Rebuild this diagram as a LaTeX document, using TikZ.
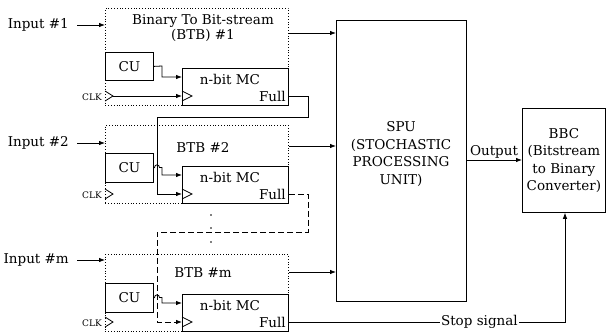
\documentclass[tikz,border=0pt]{standalone}
\usepackage{fontspec}
\setmainfont{DejaVu Serif}
\usetikzlibrary{arrows.meta}
\begin{document}
\begin{tikzpicture}[x=1pt,y=-1pt,
  font=\fontsize{13.5}{17.5}\selectfont,
  lw/.style={line width=0.8pt},
  box/.style={draw, lw, inner sep=0pt, anchor=north west},
  btb/.style={draw, dotted, line width=0.8pt, inner sep=0pt, anchor=north west},
  arr/.style={lw, -{Latex[length=6pt,width=4.5pt]}},
  clklbl/.style={font=\fontsize{9}{10}\selectfont, anchor=east, inner sep=0pt},
  txt/.style={inner sep=0pt, align=center}]
\useasboundingbox (0,0) rectangle (606,333);

% ---------- BTB blocks ----------
\node[btb, minimum width=183pt, minimum height=97pt] (b1) at (105,8) {};
\node[btb, minimum width=183pt, minimum height=78pt] (b2) at (105,125) {};
\node[btb, minimum width=183pt, minimum height=77pt] (bm) at (105,254) {};

\node[txt, font=\fontsize{13.5}{14.5}\selectfont] (t1) at (203,28) {Binary To Bit-stream\\(BTB) \#1};
\node[txt] (t2) at (203,147) {BTB \#2};
\node[txt] (tm) at (203,273) {BTB \#m};

\node[box, minimum width=48pt, minimum height=28pt] (cu1) at (105,52) {CU};
\node[box, minimum width=48pt, minimum height=29pt] (cu2) at (105,153) {CU};
\node[box, minimum width=48pt, minimum height=29pt] (cum) at (105,283) {CU};

\node[box, minimum width=106pt, minimum height=37pt] (mc1) at (182,68) {};
\node[box, minimum width=106pt, minimum height=37pt] (mc2) at (182,166) {};
\node[box, minimum width=106pt, minimum height=37pt] (mcm) at (182,294) {};

\foreach \m/\y in {mc1/68, mc2/166, mcm/294}{
  \node[txt] at (230,\y+11) {n-bit MC};
  \node[txt, anchor=east] at (286,\y+28) {Full};
  % clock triangle on MC
  \draw[lw] (182,\y+23) -- (192,\y+28) -- (182,\y+33);
  % clock triangle on BTB
  \draw[lw] (105,\y+23) -- (113,\y+28) -- (105,\y+33);
  \node[clklbl] at (102,\y+29) {CLK};
}

% ---------- Inputs ----------
\node[inner sep=0pt, anchor=east] (in1) at (69,25) {Input \#1};
\node[inner sep=0pt, anchor=east] (in2) at (69,143) {Input \#2};
\node[inner sep=0pt, anchor=east] (inm) at (69,260) {Input \#m};
\draw[arr] (in1.east) ++(8,0) -- (b1.west |- in1.east);
\draw[arr] (in2.east) ++(8,0) -- (b2.west |- in2.east);
\draw[arr] (inm.east) ++(8,0) -- (bm.west |- inm.east);

% ---------- SPU & BBC ----------
\node[box, minimum width=130pt, minimum height=281pt] (spu) at (336,20) {};
\node[txt] (spt) at (401,154) {SPU\\(STOCHASTIC\\PROCESSING\\UNIT)};
\node[box, minimum width=83pt, minimum height=104pt, align=center] (bbc) at (522,108) {BBC\\(Bitstream\\to Binary\\Converter)};

\draw[arr] (b1.east |- 0,33) -- (spu.west |- 0,33);
\draw[arr] (b2.east |- 0,146) -- (spu.west |- 0,146);
\draw[arr] (bm.east |- 0,272) -- (spu.west |- 0,272);

\coordinate (o1) at (466,160);
\draw[arr] (o1) -- (bbc.west |- o1) node[midway, above=1.5pt, inner sep=0pt] {Output};

% ---------- CU -> MC ----------
\draw[arr] (cu1.east) -- (162,66) |- (mc1.west |- 0,77);
\draw[arr] (cu2.east) -- (154.5,167.5) .. controls (154.5,164) and (159.5,164) .. (159.5,167.5) -- (162,167.5) |- (mc2.west |- 0,175);
\draw[arr] (cum.east) -- (154.5,297.5) .. controls (154.5,294) and (159.5,294) .. (159.5,297.5) -- (162,297.5) |- (mcm.west |- 0,303);

% ---------- Clock chain ----------
\draw[arr] (113,96) -- (mc1.west |- 0,96);
\draw[arr] (mc1.east |- 0,96) -- (308,96) -- (308,117) -- (157,117) |- (mc2.west |- 0,194);
\draw[arr, dashed, dash pattern=on 6pt off 3pt] (mc2.east |- 0,194) -- (308,194) -- (308,232) -- (157,232) |- (mcm.west |- 0,322);

% dots
\foreach \yy in {215,228,242} \fill (211,\yy) circle (0.9);

% ---------- Stop signal ----------
\draw[arr] (mcm.east |- 0,322) -- (565,322) node[pos=0.69, fill=white, inner sep=1pt] {Stop signal} -- (bbc.south -| 565,0);
\end{tikzpicture}
\end{document}
